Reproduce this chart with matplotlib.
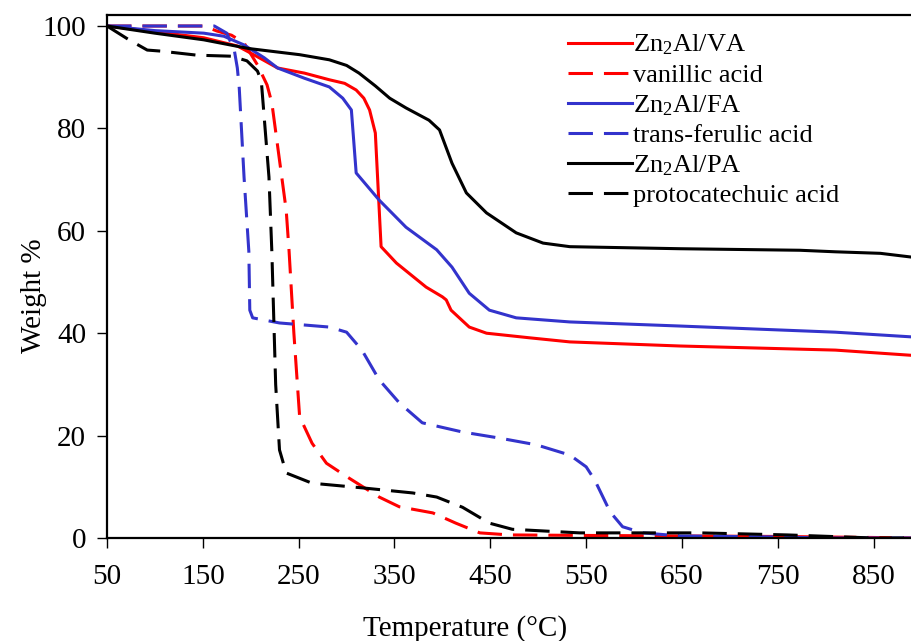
import numpy as np
import matplotlib.pyplot as plt

plt.rcParams['font.family'] = ['Liberation Serif', 'DejaVu Serif']
plt.rcParams['mathtext.fontset'] = 'custom'
plt.rcParams['mathtext.rm'] = 'Liberation Serif'
plt.rcParams['mathtext.default'] = 'regular'

# TGA curves: temperature (°C) and weight %
va_T = [50, 100, 151, 186, 204, 228, 256, 282, 298, 310, 318, 324, 330, 336, 352, 383, 400, 404, 409, 428, 446, 491, 533, 648, 810, 888]
va_W = [100, 98.9, 97.7, 96.1, 94.3, 91.8, 90.8, 89.5, 88.8, 87.5, 85.9, 83.6, 79.1, 56.9, 53.7, 49.0, 47.1, 46.5, 44.5, 41.2, 40.0, 39.1, 38.3, 37.5, 36.7, 35.7]

vanil_T = [50, 100, 151, 165, 180, 193, 207, 217, 222, 237, 240, 245, 251, 264, 279, 300, 334, 355, 390, 414, 439, 470, 550, 650, 750, 850, 890]
vanil_W = [100, 100, 100, 99.0, 98.2, 96.7, 92.4, 88.5, 85.0, 64.0, 56.0, 40.0, 23.7, 18.5, 14.6, 12.0, 8.0, 6.1, 4.9, 2.9, 1.0, 0.6, 0.5, 0.4, 0.3, 0.1, 0.0]

fa_T = [50, 100, 151, 172, 193, 214, 228, 256, 282, 296, 305, 310, 334, 362, 394, 410, 428, 449, 477, 533, 648, 810, 888]
fa_W = [100, 99.1, 98.6, 98.0, 96.3, 93.8, 91.8, 89.8, 88.1, 85.9, 83.6, 71.3, 66.0, 60.7, 56.3, 52.9, 47.8, 44.5, 43.0, 42.2, 41.4, 40.2, 39.3]

fer_T = [50, 100, 162, 175, 183, 186, 188, 193, 198, 199, 202, 230, 282, 300, 316, 334, 355, 379, 421, 460, 498, 533, 550, 559, 575, 588, 609, 648, 750, 800, 890]
fer_W = [100, 100, 100, 98.6, 95.1, 91.8, 87.9, 70.5, 56.0, 44.5, 43.0, 42.0, 41.2, 40.2, 36.7, 30.9, 26.4, 22.5, 20.7, 19.5, 18.2, 16.2, 13.9, 11.3, 5.1, 2.2, 1.0, 0.4, 0.2, 0.0, 0.0]

pa_T = [50, 100, 151, 198, 251, 282, 300, 313, 330, 345, 362, 386, 397, 410, 425, 446, 477, 505, 533, 648, 773, 810, 857, 888]
pa_W = [100, 98.6, 97.3, 95.6, 94.4, 93.4, 92.3, 90.8, 88.3, 85.9, 84.0, 81.6, 79.7, 73.2, 67.4, 63.5, 59.6, 57.6, 56.9, 56.5, 56.2, 55.9, 55.6, 54.9]

proto_T = [50, 73, 92, 106, 144, 180, 196, 207, 211, 219, 222, 226, 230, 237, 264, 316, 369, 394, 421, 449, 473, 543, 669, 760, 850, 890]
proto_W = [100, 97.3, 95.3, 95.1, 94.3, 94.1, 93.2, 91.2, 89.3, 70.5, 56.0, 30.0, 17.2, 12.7, 10.7, 9.8, 8.8, 8.0, 6.0, 2.9, 1.7, 1.0, 1.0, 0.6, 0.0, 0.0]

dash = (0, (8, 3.6))
series = [
    (va_T, va_W, 'Zn$_2$Al/VA', 'red', '-'),
    (vanil_T, vanil_W, 'vanillic acid', 'red', dash),
    (fa_T, fa_W, 'Zn$_2$Al/FA', '#3333CC', '-'),
    (fer_T, fer_W, 'trans-ferulic acid', '#3333CC', dash),
    (pa_T, pa_W, 'Zn$_2$Al/PA', 'black', '-'),
    (proto_T, proto_W, 'protocatechuic acid', 'black', dash),
]

fig = plt.figure(figsize=(9.12, 6.41), dpi=100)
ax = fig.add_axes([107 / 912, 1 - 538 / 641, 1 - 107 / 912, (538 - 15) / 641])

for T, W, lab, col, ls in series:
    ax.plot(T, W, color=col, linestyle=ls, linewidth=2.2, label=lab)

ax.set_xlim(50, 890)
ax.set_ylim(0, 102.15)
ax.set_xticks(np.arange(50, 851, 100))
ax.set_yticks(np.arange(0, 101, 20))
ax.spines['right'].set_visible(False)
for s in ['left', 'bottom', 'top']:
    ax.spines[s].set_linewidth(1.6)
ax.tick_params(direction='out', length=7, width=1, labelsize=21)
ax.tick_params(axis='x', pad=12)
ax.tick_params(axis='y', pad=8)

ax.set_xlabel('Temperature (°C)', fontsize=21)
ax.set_ylabel('Weight %', fontsize=21)
ax.xaxis.set_label_coords(0.445, -0.148)
ax.xaxis.label.set_va('top')
ax.yaxis.set_label_coords(-0.075, 0.463)

ax.legend(loc='upper left', bbox_to_anchor=(0.573, 0.966), frameon=False,
          fontsize=19, handlelength=2.4, handletextpad=0.05,
          labelspacing=0.23, borderpad=0, borderaxespad=0)

fig.savefig('out.png', dpi=100)
